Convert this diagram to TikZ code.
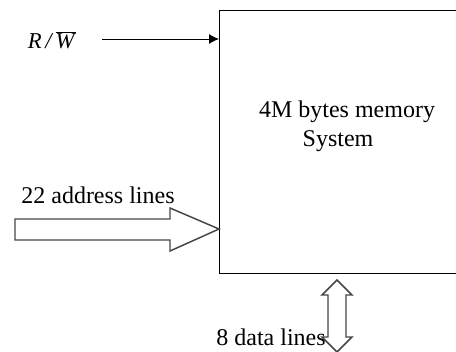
\documentclass[tikz,border=0pt]{standalone}
\usepackage{fontspec}
\setmainfont{Liberation Serif}
\usetikzlibrary{arrows.meta}
\tikzset{every picture/.style={line width=0.75pt}}
\tikzset{
fat arrow/.style={draw={rgb, 255:red, 70; green, 70; blue, 70}, line width=1.1pt, fill=white, line join=miter},
label text/.style={inner sep=0.75pt, font=\fontsize{18}{21}\selectfont}}

\begin{document}
\begin{tikzpicture}[x=0.75pt,y=0.75pt,yscale=-1,xscale=1]
\useasboundingbox (0,0) rectangle (456,351);

%Shape: Rectangle [id:mem]
\node (mem) [draw, line width=1pt, anchor=north west, inner sep=0pt, minimum width=195pt, minimum height=197pt] at (219,10) {};

%Straight Lines [id:rw]
\coordinate (rw) at (102,39);
\draw [-{Latex[length=7.5pt,width=7.5pt]}] (rw) -- (rw -| mem.west);

%Shape: Arrow [id:addr]
\coordinate (addr) at (mem.west |- 0,229);
\draw [fat arrow] (addr) -- (170,208) -- (170,219) -- (15,219) -- (15,240) -- (170,240) -- (170,251) -- cycle;

%Shape: Double Arrow [id:data]
\coordinate (data) at (337,280);
\draw [fat arrow] (data) -- (352,295) -- (346,295) -- (346,337) -- (352,337) -- (337,352) -- (322,337) -- (328,337) -- (328,295) -- (322,295) -- cycle;

% Text Node
\node (rwlbl) [label text, font=\fontsize{17}{20}\selectfont] at (52,40) {\textit{R\,/\,}$\overline{\mbox{\textit{W}}}$};
% Text Node
\node (memtxt) [label text] at (347,112) {4M bytes memory};
% Text Node
\node (systxt) [label text] at (338,141) {System};
% Text Node
\node (addrlbl) [label text] at (98,195) {22 address lines};
% Text Node
\node (datalbl) [label text] at (271,337) {8 data lines};
\end{tikzpicture}
\end{document}
